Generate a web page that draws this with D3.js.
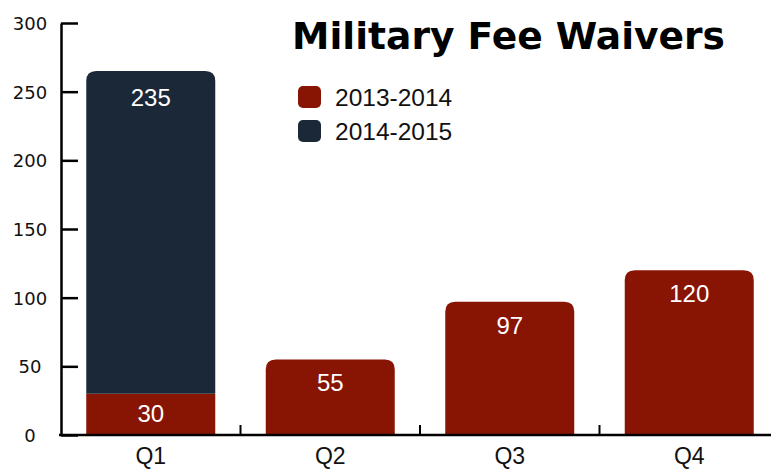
<!DOCTYPE html>
<html>
<head>
<meta charset="utf-8">
<script src="https://cdnjs.cloudflare.com/ajax/libs/d3/7.8.5/d3.min.js"></script>
<style>
  body { margin: 0; background: #fff; }
  svg { display: block; }
</style>
</head>
<body>
<div id="chart"></div>
<script>
// data
const quarters = ["Q1", "Q2", "Q3", "Q4"];
const fy1314 = [30, 55, 97, 120];
const fy1415 = [235, 0, 0, 0];
const seriesNames = ["2013-2014", "2014-2015"];
const seriesColors = ["#881403", "#1b2837"];
const yTicks = [0, 50, 100, 150, 200, 250, 300];

const W = 771, H = 469;
const svg = d3.select("#chart").append("svg")
    .attr("width", W)
    .attr("height", H);

const x = d3.scaleBand().domain(quarters).range([61, 779]).paddingInner(0).paddingOuter(0);
const y = d3.scaleLinear().domain([0, 300]).range([435, 23]);

const barW = 129;
const off = (x.bandwidth() - barW) / 2;
const r = 10;
const labelFont = "Liberation Sans, Arial, sans-serif";

// rounded-top bar path
function topRounded(x0, y0, w, h, rad) {
    rad = Math.min(rad, h);
    return `M${x0},${y0 + h}V${y0 + rad}Q${x0},${y0} ${x0 + rad},${y0}H${x0 + w - rad}Q${x0 + w},${y0} ${x0 + w},${y0 + rad}V${y0 + h}Z`;
}

function valueLabel(cx, yy, v) {
    svg.append("text")
        .attr("x", cx).attr("y", yy)
        .attr("text-anchor", "middle")
        .attr("fill", "#fff")
        .style("font-family", labelFont)
        .style("font-size", "24px")
        .text(v);
}

quarters.forEach((q, i) => {
    let bx = x(q) + off;
    let a = fy1314[i], b = fy1415[i];
    let total = a + b;
    let topA = y(a);
    if (b > 0) {
        svg.append("rect")
            .attr("x", bx).attr("y", topA)
            .attr("width", barW).attr("height", y(0) - topA)
            .attr("fill", seriesColors[0]);
        svg.append("path")
            .attr("d", topRounded(bx, y(total), barW, topA - y(total), r))
            .attr("fill", seriesColors[1]);
        valueLabel(bx + barW / 2, y(total) + 35, b);
        valueLabel(bx + barW / 2, (topA + y(0)) / 2 + 8, a);
    } else {
        svg.append("path")
            .attr("d", topRounded(bx, topA, barW, y(0) - topA, r))
            .attr("fill", seriesColors[0]);
        valueLabel(bx + barW / 2, topA + 32, a);
    }
});

// y axis
const yAxis = svg.append("g")
    .attr("transform", "translate(61,0)")
    .call(d3.axisLeft(y).tickValues(yTicks).tickSize(-17).tickSizeOuter(0).tickPadding(0))
    .attr("font-size", 18)
    .attr("font-family", "DejaVu Sans, sans-serif");
yAxis.select(".domain").attr("stroke", "#000").attr("stroke-width", 2.5);
yAxis.selectAll(".tick line").attr("stroke", "#000").attr("stroke-width", 2.5);
yAxis.selectAll(".tick text")
    .attr("x", -31)
    .attr("dy", "0.36em")
    .attr("text-anchor", "middle")
    .attr("fill", "#111");

// x axis
const xAxis = svg.append("g")
    .attr("transform", "translate(0,435)");
xAxis.append("line")
    .attr("x1", 59).attr("x2", W)
    .attr("stroke", "#000").attr("stroke-width", 2.5);
quarters.slice(1).forEach(q => {
    xAxis.append("line")
        .attr("x1", x(q)).attr("x2", x(q))
        .attr("y1", 0).attr("y2", -10)
        .attr("stroke", "#000").attr("stroke-width", 2);
});
xAxis.selectAll("text.q")
    .data(quarters)
    .join("text")
    .attr("class", "q")
    .attr("x", d => x(d) + off + barW / 2)
    .attr("y", 29)
    .attr("text-anchor", "middle")
    .attr("fill", "#111")
    .style("font-family", labelFont)
    .style("font-size", "23px")
    .text(d => d);

// title
svg.append("text")
    .attr("x", 292).attr("y", 49)
    .attr("fill", "#000")
    .style("font-family", "DejaVu Sans, sans-serif")
    .style("font-weight", "bold")
    .style("font-size", "38px")
    .attr("textLength", 433)
    .attr("lengthAdjust", "spacingAndGlyphs")
    .text("Military Fee Waivers");

// legend
const leg = svg.append("g");
seriesNames.forEach((s, i) => {
    leg.append("rect")
        .attr("x", 298).attr("y", 86 + i * 34)
        .attr("width", 23).attr("height", 22)
        .attr("rx", 5)
        .attr("fill", seriesColors[i]);
    leg.append("text")
        .attr("x", 335).attr("y", 106 + i * 34)
        .attr("fill", "#111")
        .style("font-family", labelFont)
        .style("font-size", "24.5px")
        .text(s);
});
</script>
</body>
</html>
